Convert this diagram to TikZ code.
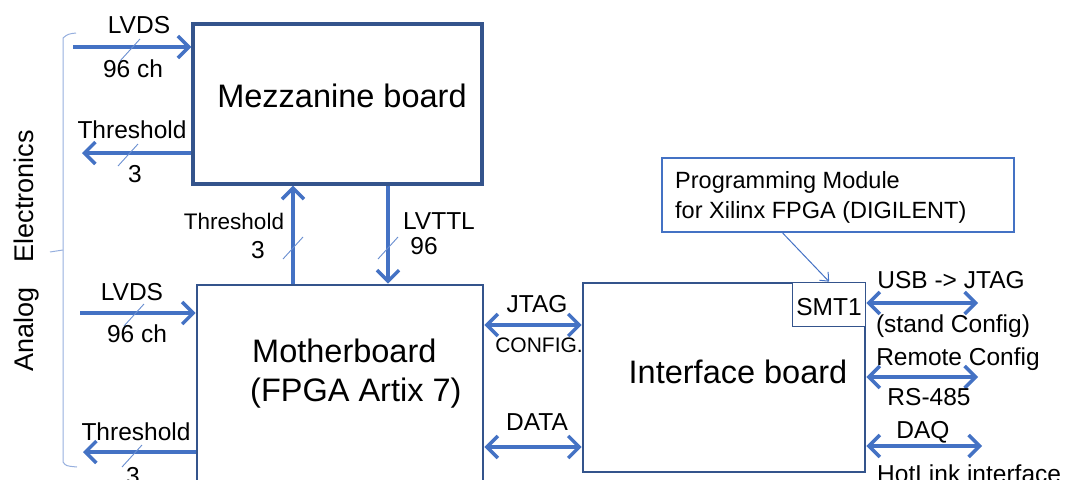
\documentclass[tikz,border=0pt]{standalone}
\usepackage{fontspec}
\setmainfont{Liberation Sans}
\usetikzlibrary{arrows.meta, positioning, calc}

\definecolor{boxblue}{RGB}{52,84,140}
\definecolor{arrowblue}{RGB}{68,114,196}
\definecolor{tickblue}{RGB}{150,175,222}

\tikzset{
  board/.style={draw=boxblue, line width=2.6pt, fill=white, inner sep=0pt},
  title/.style={font=\fontsize{32.5}{38}\selectfont, inner sep=0pt, anchor=base},
  lbl/.style={font=\fontsize{24.5}{28}\selectfont, inner sep=0pt, anchor=base},
  smalllbl/.style={font=\fontsize{21}{24}\selectfont, inner sep=0pt, anchor=base},
  link/.style={draw=arrowblue, line width=3.5pt, -{Straight Barb[length=11pt,width=22pt]}},
  duplex/.style={draw=arrowblue, line width=3.5pt, {Straight Barb[length=11pt,width=22pt]}-{Straight Barb[length=11pt,width=22pt]}},
  pointer/.style={draw=arrowblue, line width=1pt, -{Straight Barb[length=7pt,width=12pt]}},
  cut/.style={draw=arrowblue!80, line width=0.9pt},
}

\begin{document}
\begin{tikzpicture}[x=1pt, y=-1pt]
  \useasboundingbox (0,0) rectangle (1070,479);
  \def\busmark#1{\draw[cut] (#1) +(-10,11) -- +(10,-11);}

  % boards
  \node[board, line width=3.2pt, minimum width=289pt, minimum height=160pt] (mezz) at (337.5,104) {};
  \node[board, minimum width=286pt, minimum height=240pt] (mother) at (340,405) {};
  \node[board, minimum width=282pt, minimum height=189pt] (ifb) at (724,377.5) {};
  \node[board, line width=1.3pt, minimum width=73pt, minimum height=44pt, anchor=north east] (smt) at (ifb.north east) {};
  \node[board, draw=arrowblue, line width=2.2pt, minimum width=352pt, minimum height=74pt] (prog) at (838,195) {};

  \node[title] (mezzt) at (342,107) {Mezzanine board};
  \node[title, anchor=base west] (mothert) at (252,362) {Motherboard};
  \node[title, anchor=base west] (mothert2) at (250,401) {(FPGA Artix 7)};
  \node[title] (ifbt) at (738,383) {Interface board};
  \node[lbl] (smtt) at (829,315) {SMT1};
  \node[lbl, font=\fontsize{23.5}{27}\selectfont, anchor=base west] (progt) at (675,188) {Programming Module};
  \node[lbl, font=\fontsize{23.5}{27}\selectfont, anchor=base west] (progt2) at (675,218) {for Xilinx FPGA (DIGILENT)};

  % free ends
  \coordinate (lvdsA) at (73,47);
  \coordinate (thrA) at (82,153);
  \coordinate (lvdsB) at (80,313);
  \coordinate (thrB) at (83,452);
  \coordinate (usb) at (978,303);
  \coordinate (rem) at (978,377);
  \coordinate (daq) at (982,446);

  % links
  \draw[link] (lvdsA) -- (lvdsA -| mezz.west);
  \draw[link] (thrA -| mezz.west) -- (thrA);
  \draw[link] (lvdsB) -- (lvdsB -| mother.west);
  \draw[link] (thrB -| mother.west) -- (thrB);
  \draw[link] (mother.north -| 293,0) -- (mezz.south -| 293,0);
  \draw[link] (mezz.south -| 388,0) -- (mother.north -| 388,0);
  \draw[duplex] (mother.east |- 0,325) -- (ifb.west |- 0,325);
  \draw[duplex] (mother.east |- 0,447) -- (ifb.west |- 0,447);
  \draw[duplex] (usb -| ifb.east) -- (usb);
  \draw[duplex] (rem -| ifb.east) -- (rem);
  \draw[duplex] (daq -| ifb.east) -- (daq);
  \draw[pointer] ($(prog.south west)!0.344!(prog.south east)$) -- (smt.north);

  % bus width marks
  \busmark{130,50}
  \busmark{128,155}
  \busmark{293,248}
  \busmark{388,248}
  \busmark{134,315}
  \busmark{132,456}

  % labels
  \node[lbl] (l1) at (139,33) {LVDS};
  \node[lbl] (l2) at (133,77) {96 ch};
  \node[lbl] (l3) at (132,138) {Threshold};
  \node[lbl] (l4) at (135,182) {3};
  \node[lbl, font=\fontsize{22.5}{26}\selectfont] (l5) at (234,229) {Threshold};
  \node[lbl] (l6) at (258,258) {3};
  \node[lbl] (l7) at (439,229) {LVTTL};
  \node[lbl] (l8) at (424,254) {96};
  \node[lbl] (l9) at (132,300) {LVDS};
  \node[lbl] (l10) at (137,342) {96 ch};
  \node[lbl] (l11) at (136,440) {Threshold};
  \node[lbl] (l12) at (133,484) {3};
  \node[lbl] (l13) at (537,312) {JTAG};
  \node[smalllbl] (l14) at (539,352) {CONFIG.};
  \node[lbl] (l15) at (537,430) {DATA};
  \node[lbl] (l16) at (951,288) {USB -> JTAG};
  \node[lbl] (l17) at (953,332) {(stand Config)};
  \node[lbl] (l18) at (958,365) {Remote Config};
  \node[lbl] (l19) at (929,405) {RS-485};
  \node[lbl] (l20) at (923,438) {DAQ};
  \node[lbl, anchor=base west] (l21) at (877,482) {HotLink interface};

  % analog electronics bracket
  \draw[tickblue, line width=1pt] (76,33) .. controls (68,34) .. (63,38) -- (63,462) .. controls (66,466) .. (77,467);
  \draw[tickblue, line width=1pt] (63,250) -- (50,252);
  \node[lbl, font=\fontsize{27}{30}\selectfont, anchor=center, rotate=90] (analog) at (27,251) {Analog\hspace{18pt} Electronics};
\end{tikzpicture}
\end{document}
